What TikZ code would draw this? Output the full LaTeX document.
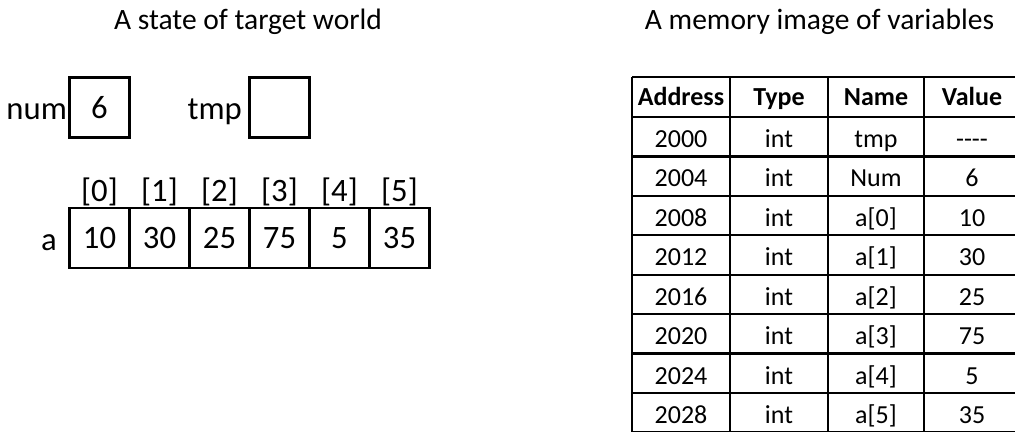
\documentclass[tikz,border=0pt]{standalone}
\usepackage{fontspec}
\setmainfont{Carlito}
\begin{document}
\begin{tikzpicture}[x=0.02cm,y=-0.02cm,line width=1.25pt,
  title/.style={anchor=base,font=\fontsize{16.8}{20}\selectfont},
  big/.style={font=\fontsize{18.6}{22}\selectfont},
  label/.style={big,anchor=base east,inner sep=0pt},
  cellbox/.style={draw,big,minimum width=1.2cm,minimum height=1.2cm,inner sep=0pt},
  tab/.style={anchor=base,font=\fontsize{14.8}{18}\selectfont},
  head/.style={anchor=base,font=\fontsize{14.8}{18}\selectfont\bfseries}]
\useasboundingbox (0,0) rectangle (1015,432);
\clip (0,0) rectangle (1015,432);
% titles
\node[title] (lefttitle) at (248,30) {A state of target world};
\node[title] (righttitle) at (819.5,30) {A memory image of variables};
% variables num and tmp
\node[cellbox] (num) at (99.5,107.5) {6};
\node[label] (numlabel) at (68,120) {num};
\node[cellbox] (tmp) at (279.5,107.5) {};
\node[label] (tmplabel) at (243,120) {tmp};
% the array a
\node[label] (alabel) at (58,251) {a};
\foreach \v [count=\i from 0] in {10,30,25,75,5,35}{
  \node[cellbox] (a\i) at (99.5+60*\i,238) {\v};
  \node[big,anchor=base,inner sep=0pt] (idx\i) at (99.5+60*\i,202) {[\i]};
}
% memory table
\foreach \x in {632,730,828,924,1020} \draw (\x,77) -- (\x,440);
\draw (632,77) -- (1020,77);
\foreach \r in {0,...,8} \draw (632,117+39.43*\r) -- (1020,117+39.43*\r);
\node[head] (haddr) at (681,106) {Address};
\node[head] (htype) at (779,106) {Type};
\node[head] (hname) at (876,106) {Name};
\node[head] (hval) at (972,106) {Value};
\foreach \ad/\nm/\val [count=\i] in {2000/tmp/{-}{-}{-}{-},2004/Num/6,
    2008/a[0]/10,2012/a[1]/30,2016/a[2]/25,2020/a[3]/75,2024/a[4]/5,2028/a[5]/35}{
  \pgfmathsetmacro\yb{117+39.43*(\i-1)+30.5}
  \node[tab] (addr\i) at (681,\yb) {\ad};
  \node[tab] (type\i) at (779,\yb) {int};
  \node[tab] (name\i) at (876,\yb) {\nm};
  \node[tab] (val\i) at (972,\yb) {\val};
}
\end{tikzpicture}
\end{document}
